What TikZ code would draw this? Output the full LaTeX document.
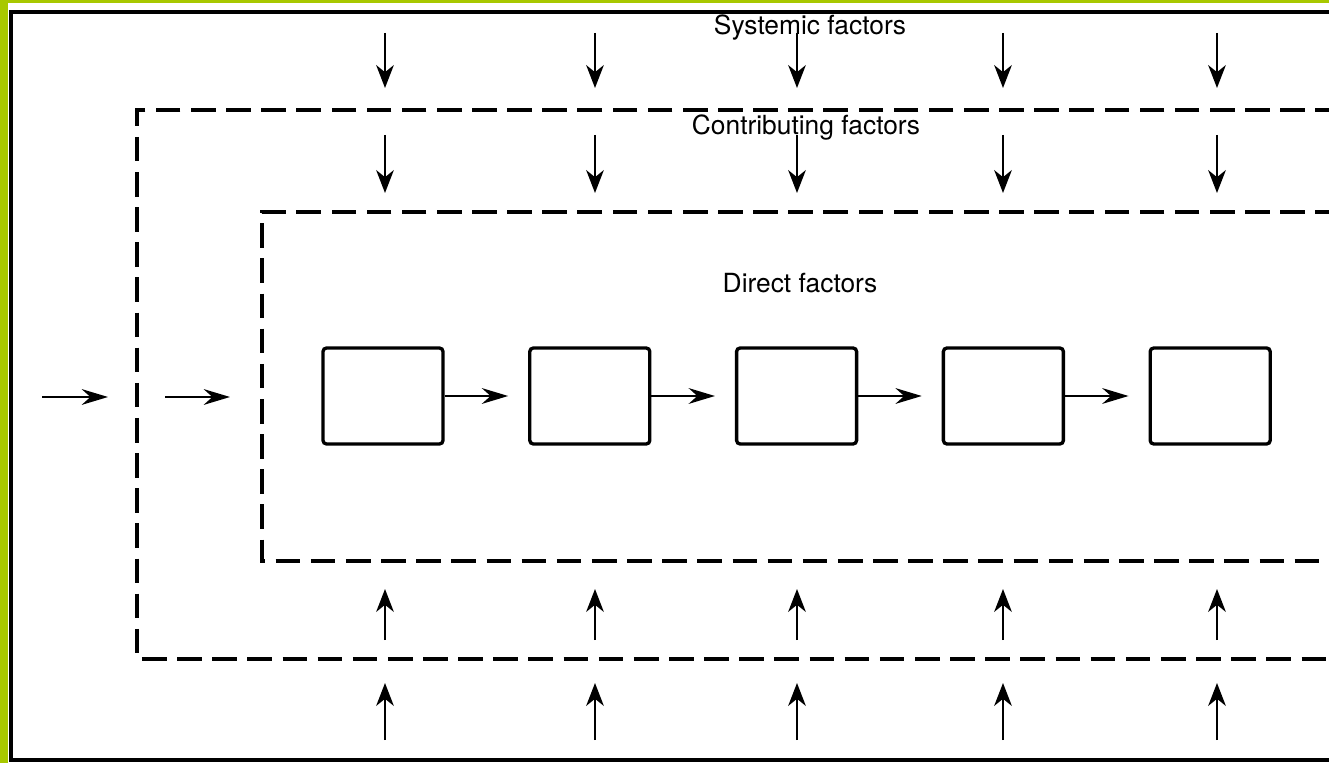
\documentclass[tikz,border=0pt]{standalone}
\usepackage{fontspec}
\setmainfont{TeX Gyre Heros}
\usetikzlibrary{arrows.meta,positioning}
\definecolor{slidegreen}{RGB}{168,200,0}
\tikzset{
  frame/.style={line width=2pt, draw=black},
  dashframe/.style={line width=2pt, draw=black, dash pattern=on 14pt off 6pt},
  stagebox/.style={draw, line width=1.9pt, rounded corners=2pt,
    minimum width=2.40cm, minimum height=1.92cm},
  factorlabel/.style={font=\fontsize{15}{18}\selectfont},
  farr/.style={-{Stealth[length=13pt, width=10pt, inset=4pt]}, line width=1.4pt},
  harr/.style={-{Stealth[length=15pt, width=9pt, inset=5pt]}, line width=1.1pt}
}
\begin{document}
\begin{tikzpicture}[x=0.02cm, y=-0.02cm]
    \useasboundingbox (0,0) rectangle (1329,763);
    \clip (0,0) rectangle (1329,763);
    \fill[slidegreen] (0,0) rectangle (1329,763);
    \fill[white] (8,3) rectangle (1340,770);
    % frames
    \draw[frame] (1340,12) -- (11,12) -- (11,760) -- (1340,760);
    \draw[dashframe] (1340,110) -- (137,110) -- (137,659) -- (1340,659);
    \draw[dashframe] (1340,212) -- (262,212) -- (262,561) -- (1340,561);
    % labels
    \node[factorlabel] (sys) at (810,28) {Systemic factors};
    \node[factorlabel] (con) at (806,128) {Contributing factors};
    \node[factorlabel] (dir) at (800,283) {Direct factors};
    % stages
    \node[stagebox] (s1) at (383,396) {};
    \node[stagebox, right=1.67cm of s1] (s2) {};
    \node[stagebox, right=1.67cm of s2] (s3) {};
    \node[stagebox, right=1.67cm of s3] (s4) {};
    \node[stagebox, right=1.67cm of s4] (s5) {};
    \foreach \a/\b in {s1/s2, s2/s3, s3/s4, s4/s5}
      \draw[harr, shorten >=0.4cm] (\a.east) -- (\b.west);
    % inputs from the left
    \coordinate (in1) at (42,397);
    \coordinate (in1e) at (108,397);
    \coordinate (in2) at (165,397);
    \coordinate (in2e) at (230,397);
    \draw[harr] (in1) -- (in1e);
    \draw[harr] (in2) -- (in2e);
    % factor arrows
    \foreach \x [count=\i] in {385,595,797,1003,1217} {
      \coordinate (ta\i) at (\x,33);  \coordinate (tb\i) at (\x,88);
      \coordinate (tc\i) at (\x,135); \coordinate (td\i) at (\x,193);
      \coordinate (ba\i) at (\x,640); \coordinate (bb\i) at (\x,589);
      \coordinate (bc\i) at (\x,740); \coordinate (bd\i) at (\x,683);
      \draw[farr] (ta\i) -- (tb\i);
      \draw[farr] (tc\i) -- (td\i);
      \draw[farr] (ba\i) -- (bb\i);
      \draw[farr] (bc\i) -- (bd\i);
    }
  \end{tikzpicture}
\end{document}
